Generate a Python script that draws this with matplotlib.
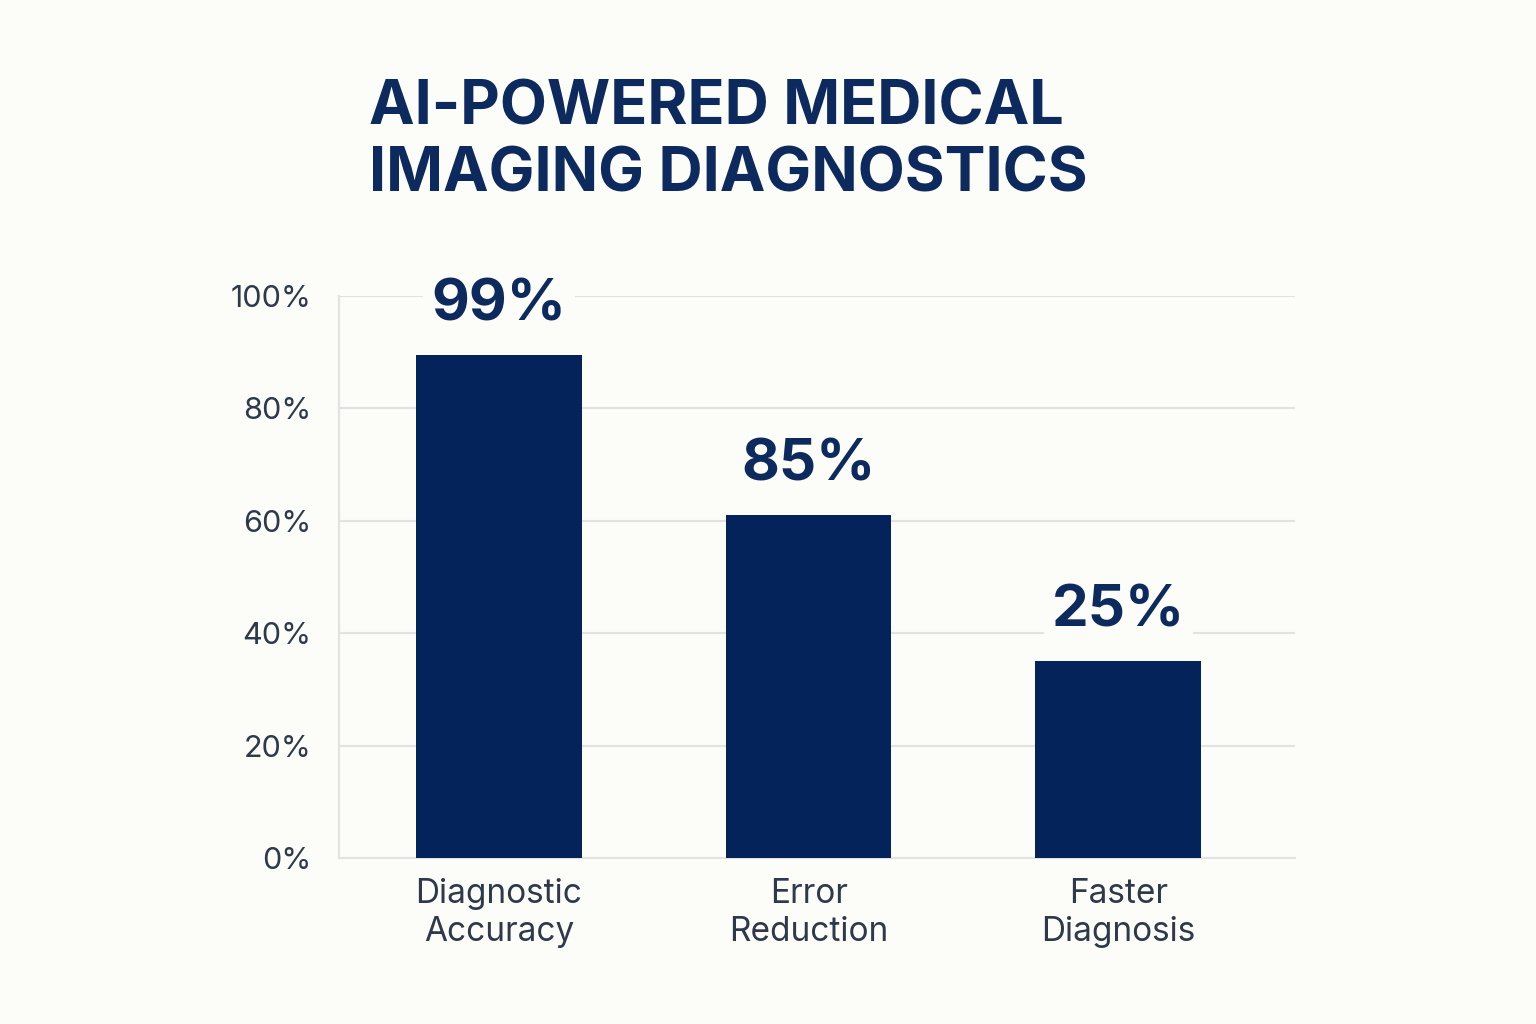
import matplotlib
matplotlib.use("Agg")
import matplotlib.pyplot as plt
from matplotlib.patches import FancyBboxPatch

categories = ["Diagnostic\nAccuracy", "Error\nReduction", "Faster\nDiagnosis"]
bar_heights = [89.5, 61, 35]
value_labels = ["99%", "85%", "25%"]
yticks = [0, 20, 40, 60, 80, 100]
ytick_labels = ["0%", "20%", "40%", "60%", "80%", "100%"]

bg = "#fcfcf8"
navy = "#03235a"
fig = plt.figure(figsize=(15.36, 10.24), dpi=100, facecolor=bg)
ax = fig.add_axes([0.221, 0.162, 0.622, 0.549], facecolor=bg)
x = list(range(len(categories)))
ax.bar(x, bar_heights, width=0.535, color=navy, zorder=3)
ax.set_xlim(-0.515, 2.57)
ax.set_ylim(0, 100)
ax.set_yticks(yticks)
ax.set_yticklabels(ytick_labels, fontsize=22, color="#2e3a4a", family="Inter")
ax.set_xticks(x)
ax.set_xticklabels(categories, fontsize=24, color="#2e3a4a", family="Inter", linespacing=1.25)
ax.tick_params(length=0, pad=20)
ax.tick_params(axis="x", pad=14)
ax.grid(axis="y", color="#e2e2e2", linewidth=1.5, zorder=0)
for s in ["top", "right"]:
    ax.spines[s].set_visible(False)
ax.spines["left"].set_color("#e2e2e2")
ax.spines["bottom"].set_color("#e2e2e2")
ax.spines["left"].set_linewidth(1.5)
ax.spines["bottom"].set_linewidth(1.5)
for xi, h, lab in zip(x, bar_heights, value_labels):
    ax.text(xi, h + 4, lab, ha="center", va="bottom", fontsize=42, fontweight="bold",
            color="#0d2a5e", family="Inter", zorder=4,
            bbox=dict(facecolor=bg, edgecolor="none", pad=6))
fig.text(0.24, 0.80, "AI-POWERED MEDICAL\nIMAGING DIAGNOSTICS", fontsize=44, fontweight="bold",
         color="#0d2a5e", family="Inter", ha="left", va="bottom", linespacing=1.2)
fig.savefig("out.png", dpi=100, facecolor=bg)
